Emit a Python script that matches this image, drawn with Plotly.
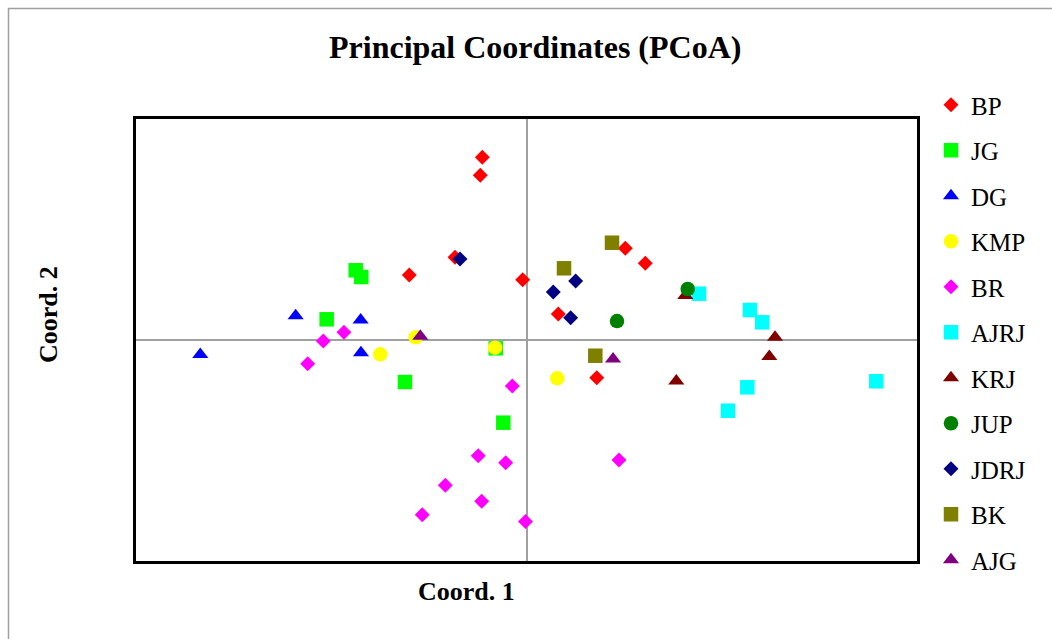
import plotly.graph_objects as go

# ---- data (Coord. 1, Coord. 2) per population ----
groups = ["BP", "JG", "DG", "KMP", "BR", "AJRJ", "KRJ", "JUP", "JDRJ", "BK", "AJG"]

BP_x = [-0.0564, -0.0590, -0.0913, -0.1497, -0.0049, 0.1262, 0.1517, 0.0406, 0.0897]
BP_y = [0.3292, 0.2968, 0.1490, 0.1171, 0.1086, 0.1652, 0.1382, 0.0468, -0.0679]

JG_x = [-0.2181, -0.2110, -0.2552, -0.1552, -0.0393, -0.0296]
JG_y = [0.1256, 0.1135, 0.0373, -0.0757, -0.0150, -0.1490]

DG_x = [-0.2948, -0.2118, -0.4166, -0.2114]
DG_y = [0.0436, 0.0359, -0.0261, -0.0231]

KMP_x = [-0.1415, -0.0402, -0.1867, 0.0393]
KMP_y = [0.0049, -0.0139, -0.0258, -0.0690]

BR_x = [-0.2331, -0.2595, -0.2794, -0.0181, -0.0616, -0.0266, -0.1037, -0.0572, -0.1331, -0.0013, 0.1181]
BR_y = [0.0139, -0.0018, -0.0427, -0.0829, -0.2085, -0.2211, -0.2618, -0.2906, -0.3148, -0.3270, -0.2162]

AJRJ_x = [0.2203, 0.2854, 0.3011, 0.2820, 0.2573, 0.4467]
AJRJ_y = [0.0834, 0.0541, 0.0319, -0.0852, -0.1274, -0.0744]

KRJ_x = [0.2028, 0.3174, 0.3101, 0.1913]
KRJ_y = [0.0802, 0.0049, -0.0299, -0.0739]

JUP_x = [0.2059, 0.1156]
JUP_y = [0.0919, 0.0342]

JDRJ_x = [-0.0849, 0.0628, 0.0342, 0.0564]
JDRJ_y = [0.1459, 0.1063, 0.0865, 0.0402]

BK_x = [0.1092, 0.0479, 0.0879]
BK_y = [0.1753, 0.1292, -0.0283]

AJG_x = [-0.1356, 0.1105]
AJG_y = [0.0067, -0.0344]

series = {
    "BP": (BP_x, BP_y), "JG": (JG_x, JG_y), "DG": (DG_x, DG_y),
    "KMP": (KMP_x, KMP_y), "BR": (BR_x, BR_y), "AJRJ": (AJRJ_x, AJRJ_y),
    "KRJ": (KRJ_x, KRJ_y), "JUP": (JUP_x, JUP_y), "JDRJ": (JDRJ_x, JDRJ_y),
    "BK": (BK_x, BK_y), "AJG": (AJG_x, AJG_y),
}

styles = {
    "BP": ("diamond", "#FF0000", 11.5),
    "JG": ("square", "#00FF00", 14.5),
    "DG": ("triangle-up", "#0000FF", 14),
    "KMP": ("circle", "#FFFF00", 14.5),
    "BR": ("diamond", "#FF00FF", 11.5),
    "AJRJ": ("square", "#00FFFF", 14.5),
    "KRJ": ("triangle-up", "#800000", 14),
    "JUP": ("circle", "#008000", 14.5),
    "JDRJ": ("diamond", "#000080", 11.5),
    "BK": ("square", "#808000", 14.5),
    "AJG": ("triangle-up", "#800080", 14),
}

fig = go.Figure()
for g in groups:
    xs, ys = series[g]
    sym, col, sz = styles[g]
    fig.add_trace(go.Scatter(
        x=xs, y=ys, mode="markers", name=g, legendgroup=g,
        marker=dict(symbol=sym, color=col, size=sz, line=dict(width=0)),
    ))

serif = "Liberation Serif, Times New Roman, serif"
W, H = 1052, 639
ml, mr, mt, mb = 136, 135, 119, 78
pw, ph = W - ml - mr, H - mt - mb

def px2x(p):
    return (p - ml) / pw

def px2y(p):
    return (H - mb - p) / ph

fig.update_layout(
    width=W, height=H,
    margin=dict(l=ml, r=mr, t=mt, b=mb, autoexpand=False),
    paper_bgcolor="white", plot_bgcolor="white",
    font=dict(family=serif, color="black"),
    showlegend=True,
    legend=dict(
        x=px2x(931), xanchor="left", y=px2y(82), yanchor="top",
        font=dict(family=serif, size=25, color="black"),
        tracegroupgap=10, bgcolor="rgba(0,0,0,0)", maxheight=620,
    ),
    xaxis=dict(
        range=[-0.4987, 0.4987], showticklabels=False, ticks="", showgrid=False,
        zeroline=True, zerolinecolor="#A0A0A0", zerolinewidth=1.5,
        showline=True, linecolor="black", linewidth=2.5, mirror=True,
    ),
    yaxis=dict(
        range=[-0.3982, 0.3982], showticklabels=False, ticks="", showgrid=False,
        zeroline=True, zerolinecolor="#A0A0A0", zerolinewidth=1.5,
        showline=True, linecolor="black", linewidth=2.5, mirror=True,
    ),
    annotations=[
        dict(text="<b>Principal Coordinates (PCoA)</b>", xref="paper", yref="paper",
             x=px2x(535), y=px2y(47), xanchor="center", yanchor="middle",
             showarrow=False, font=dict(family=serif, size=32, color="black")),
        dict(text="<b>Coord. 1</b>", xref="paper", yref="paper",
             x=px2x(466), y=px2y(591), xanchor="center", yanchor="middle",
             showarrow=False, font=dict(family=serif, size=26, color="black")),
        dict(text="<b>Coord. 2</b>", xref="paper", yref="paper",
             x=px2x(48), y=px2y(315), xanchor="center", yanchor="middle",
             textangle=-90, showarrow=False,
             font=dict(family=serif, size=26, color="black")),
    ],
    shapes=[
        dict(type="rect", xref="paper", yref="paper",
             x0=px2x(8.5), y0=px2y(660), x1=px2x(1070), y1=px2y(8.5),
             line=dict(color="#A0A0A0", width=1.5), fillcolor="rgba(0,0,0,0)",
             layer="below"),
    ],
)

fig.write_html("out.html")
